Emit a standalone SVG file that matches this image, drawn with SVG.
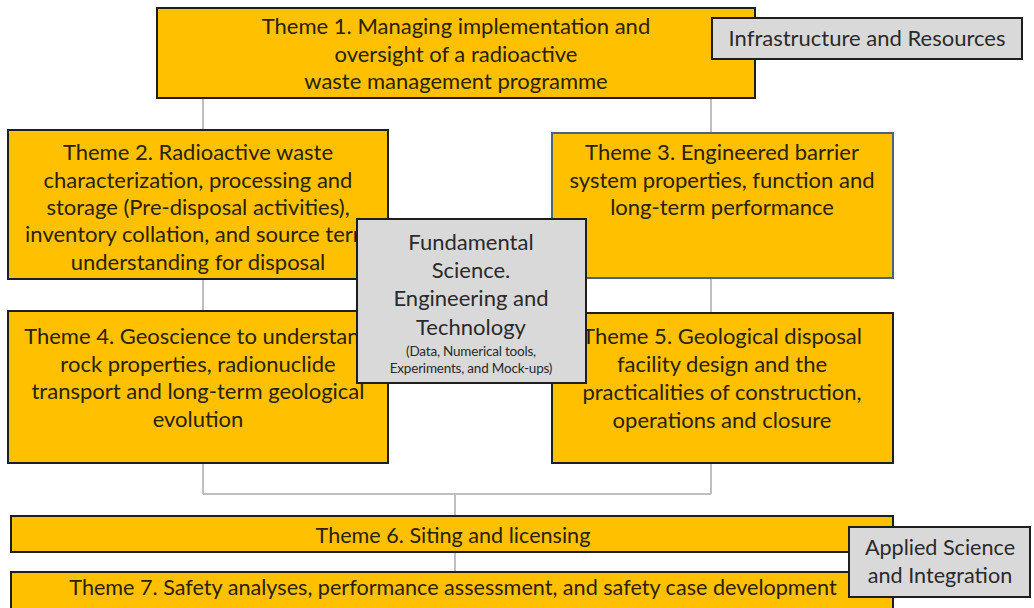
<svg xmlns="http://www.w3.org/2000/svg" width="1034" height="608" viewBox="0 0 1034 608">
<style>
.y{fill:#FFC000;stroke:#1e1e1e;stroke-width:2}
.g{fill:#D9D9D9;stroke:#1e1e1e;stroke-width:2}
.t{font-family:Lato,"Open Sans",sans-serif;font-size:22px;fill:#2a2200;text-anchor:middle}
.b{font-size:21.6px}
.d{fill:#2a2a2a}
.s{font-family:Lato,"Open Sans",sans-serif;font-size:13.5px;fill:#2a2a2a;text-anchor:middle;letter-spacing:-0.2px}
.c{fill:none;stroke:#BFBFBF;stroke-width:2}
</style>
<rect width="1034" height="608" fill="#fff"/>
<g id="connectors">
<line class="c" x1="203" y1="98" x2="203" y2="494"/>
<line class="c" x1="711" y1="98" x2="711" y2="494"/>
<line class="c" x1="203" y1="494" x2="711" y2="494"/>
<line class="c" x1="455" y1="494" x2="455" y2="572"/>
</g>
<g id="theme1">
<rect class="y" x="157" y="8" width="598" height="90"/>
<text class="t" x="456" y="34">Theme 1. Managing implementation and</text>
<text class="t" x="456" y="62">oversight of a radioactive</text>
<text class="t" x="456" y="89">waste management programme</text>
</g>
<g id="infrastructure">
<rect class="g" x="712" y="18" width="310" height="41"/>
<text class="t d" x="867" y="46">Infrastructure and Resources</text>
</g>
<g id="theme2">
<rect class="y" x="8" y="130" width="380" height="149"/>
<text class="t" x="198" y="160">Theme 2. Radioactive waste</text>
<text class="t" x="198" y="188">characterization, processing and</text>
<text class="t" x="198" y="215">storage (Pre-disposal activities),</text>
<text class="t" x="198" y="242">inventory collation, and source term</text>
<text class="t" x="198" y="270">understanding for disposal</text>
</g>
<g id="theme3">
<rect class="y" x="552" y="133" width="341" height="145" style="stroke:#4a6480"/>
<text class="t" x="722" y="160">Theme 3. Engineered barrier</text>
<text class="t" x="722" y="188">system properties, function and</text>
<text class="t" x="722" y="215">long-term performance</text>
</g>
<g id="theme4">
<rect class="y" x="8" y="311" width="380" height="152"/>
<text class="t" x="198" y="344">Theme 4. Geoscience to understand</text>
<text class="t" x="198" y="372">rock properties, radionuclide</text>
<text class="t" x="198" y="399">transport and long-term geological</text>
<text class="t" x="198" y="427">evolution</text>
</g>
<g id="theme5">
<rect class="y" x="552" y="313" width="341" height="150"/>
<text class="t" x="722" y="344">Theme 5. Geological disposal</text>
<text class="t" x="722" y="372">facility design and the</text>
<text class="t" x="722" y="400">practicalities of construction,</text>
<text class="t" x="722" y="428">operations and closure</text>
</g>
<g id="fundamental">
<rect class="g" x="357" y="219" width="229" height="164"/>
<text class="t d" x="471" y="250">Fundamental</text>
<text class="t d" x="471" y="278">Science.</text>
<text class="t d" x="471" y="306">Engineering and</text>
<text class="t d" x="471" y="335">Technology</text>
<text class="s" x="471" y="356">(Data, Numerical tools,</text>
<text class="s" x="471" y="373">Experiments, and Mock-ups)</text>
</g>
<g id="theme6">
<rect class="y" x="11" y="516" width="882" height="36"/>
<text class="t b" x="453" y="543">Theme 6. Siting and licensing</text>
</g>
<g id="theme7">
<rect class="y" x="11" y="572" width="882" height="45"/>
<text class="t b" x="453" y="595">Theme 7. Safety analyses, performance assessment, and safety case development</text>
</g>
<g id="applied">
<rect class="g" x="849" y="527" width="181" height="70"/>
<text class="t b d" x="940" y="555">Applied Science</text>
<text class="t b d" x="940" y="583">and Integration</text>
</g>
</svg>
